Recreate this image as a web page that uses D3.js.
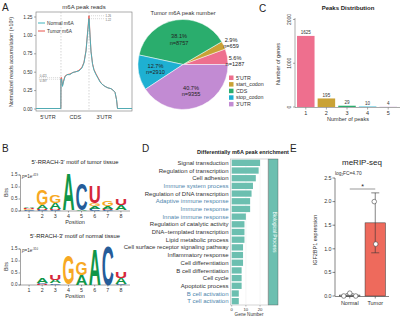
<!DOCTYPE html>
<html><head><meta charset="utf-8">
<script src="https://cdn.jsdelivr.net/npm/d3@7"></script>
<style>
body{margin:0;background:#fff}
svg{display:block}
text{font-family:"Liberation Sans",Arial,Helvetica,sans-serif;fill:#222}
</style>
</head><body>
<svg id="c" width="400" height="318"></svg>
<script>
// ---------- DATA ----------
// Panel A: metagene profile (position 0-100 across 5'UTR | CDS | 3'UTR)
const metaPos = [0,25.9,26.0,26.6,27.6,28.6,30.2,32.3,35.4,38.5,41.7,44.8,47.9,50.0,52.1,53.6,55.2,56.3,57.3,58.9,60.4,62.5,64.6,66.7,68.8,71.9,75.0,78.1,80.2,82.3,83.9,84.9,100];
const normalReads = [0,0,0.40,0.40,0.30,0.36,0.43,0.46,0.46,0.49,0.50,0.51,0.55,0.62,0.78,1.00,1.22,0.98,0.77,0.60,0.52,0.46,0.41,0.36,0.33,0.30,0.28,0.27,0.25,0.22,0.12,0,0];
const tumorReads  = [0,0,0.42,0.42,0.31,0.37,0.44,0.46,0.47,0.49,0.50,0.52,0.56,0.63,0.79,1.02,1.26,1.00,0.78,0.61,0.53,0.47,0.42,0.37,0.33,0.30,0.28,0.27,0.25,0.22,0.12,0,0];
const metaTicks = [0,0.25,0.5,0.75,1.0,1.25];
const regionLabels = ["5'UTR","CDS","3'UTR"];
const regionCenters = [12.5,41,71];
const regionBounds = [26.0,55.2];

// Panel A pie
const pieCats = ["5'UTR","start_codon","CDS","stop_codon","3'UTR"];
const pieCounts = [1287,659,8757,2910,9355];
const piePct = ["5.6%","2.9%","38.1%","12.7%","40.7%"];

// Panel C
const peakNums = ["1","2","3","4","5"];
const geneCounts = [1625,195,29,10,4];
const geneTicks = [0,1000,2000];

// Panel B sequence logos (bottom -> top, bits)
const logoPositions = [1,2,3,4,5,6,7,8];
const tumorLogo = [
  [["C",0.03],["G",0.03],["U",0.04],["A",0.05]],
  [["C",0.03],["U",0.03],["A",0.15],["G",0.68]],
  [["C",0.03],["U",0.03],["A",0.27],["G",0.31]],
  [["C",0.02],["G",0.02],["A",1.53]],
  [["A",0.03],["C",1.10]],
  [["C",0.08],["A",0.10],["G",0.12],["U",0.72]],
  [["C",0.04],["U",0.04],["A",0.10],["G",0.20]],
  [["C",0.02],["A",0.21],["U",0.29]]
];
const normalLogo = [
  [],
  [["U",0.03],["C",0.04],["A",0.22]],
  [["C",0.05],["A",0.15],["U",0.22]],
  [["A",0.02],["C",0.02],["G",1.20]],
  [["A",0.41],["G",0.56]],
  [["A",1.50]],
  [["C",1.63]],
  [["C",0.03],["A",0.25],["U",0.28]]
];
const bitTicks = [0,0.5,1.0,1.5];

// Panel D
const goTerms = ["Signal transduction","Regulation of transcription","Cell adhesion","Immune system process","Regulation of DNA transcription","Adaptive immune response","Immune response","Innate immune response","Regulation of catalytic activity","DNA\u2212templated transcription","Lipid metabolic process","Cell surface receptor signaling pathway","Inflammatory response","Cell differentiation","B cell differentiation","Cell cycle","Apoptotic process","B cell activation","T cell activation"];
const goCounts = [20,19,17,15,14,13,13,10,9,9,9,8,8,8,7,7,7,5,5];
const goImmune = ["Immune system process","Adaptive immune response","Immune response","Innate immune response","B cell activation","T cell activation"];
const goTicks = [0,10,20];

// Panel E
const groups = ["Normal","Tumor"];
const groupMeans = [0.02,1.55];
const groupSD = [0.03,0.635];
const normalPoints = [0.0,0.06,0.0];
const tumorPoints = [2.0,1.1];
const exprTicks = [0,0.5,1.0,1.5,2.0,2.5];

// ---------- DRAW ----------
const svg = d3.select("#c");
function T(g,x,y,s,size,o={}){
  const t=g.append("text").attr("x",x).attr("y",y).attr("font-size",size).text(s);
  if(o.anchor) t.attr("text-anchor",o.anchor);
  if(o.weight) t.attr("font-weight",o.weight);
  if(o.fill) t.style("fill",o.fill);
  if(o.rot!==undefined) t.attr("transform",`rotate(${o.rot},${x},${y})`);
  return t;
}
// panel letters
T(svg,2,11,"A",10); T(svg,259,12,"C",10); T(svg,2,152,"B",10); T(svg,142,152,"D",10); T(svg,290,152,"E",10);

// ===== Panel A line =====
const gA = svg.append("g");
const xA = d3.scaleLinear().domain([0,100]).range([36,132]);
const yA = d3.scaleLinear().domain([0,1.25]).range([108.5,16.5]);
gA.append("rect").attr("x",36).attr("y",12).attr("width",96).attr("height",99)
  .attr("fill","none").attr("stroke","#777").attr("stroke-width",0.6);
const axA = gA.append("g").attr("transform","translate(36,0)")
  .call(d3.axisLeft(yA).tickValues(metaTicks).tickFormat(d3.format(".2f")).tickSize(2).tickPadding(1.5));
axA.select(".domain").remove();
axA.selectAll("line").attr("stroke","#555").attr("stroke-width",0.5);
axA.selectAll("text").attr("font-size",4.8).style("fill","#333");
regionBounds.forEach(b=>gA.append("line").attr("x1",xA(b)).attr("x2",xA(b)).attr("y1",12).attr("y2",111)
  .attr("stroke","#aaa").attr("stroke-width",0.5).attr("stroke-dasharray","1.5,1.5"));
regionLabels.forEach((l,i)=>T(gA,xA(regionCenters[i]),119,l,5.5,{anchor:"middle",fill:"#333"}));
T(gA,84,9,"m6A peak reads",6,{anchor:"middle",fill:"#333"});
T(gA,13,62,"Normalized reads accumulation (\u00d710\u00b3)",5.3,{anchor:"middle",rot:-90,fill:"#333"});
// annotation dotted lines
[[3,26,0.42],[3,26,0.397],[55.2,72,1.26],[55.2,72,1.22]].forEach(a=>
  gA.append("line").attr("x1",xA(a[0])).attr("x2",xA(a[1])).attr("y1",yA(a[2])).attr("y2",yA(a[2]))
    .attr("stroke","#999").attr("stroke-width",0.4).attr("stroke-dasharray","1,1"));
[[xA(4),yA(0.42)-0.5,"0.421"],[xA(4),yA(0.397)+3,"0.397"],[xA(72.5),yA(1.26)+1,"1.26"],[xA(72.5),yA(1.22)+2.5,"1.22"]]
  .forEach(a=>T(gA,a[0],a[1],a[2],2.8,{fill:"#666"}));
const lineA = (vals)=>d3.line().x((d,i)=>xA(metaPos[i])).y(d=>yA(d))(vals);
gA.append("path").attr("d",lineA(tumorReads)).attr("fill","none").attr("stroke","#e8534a").attr("stroke-width",0.9);
gA.append("path").attr("d",lineA(normalReads)).attr("fill","none").attr("stroke","#3fb3bd").attr("stroke-width",0.9);
gA.append("line").attr("x1",38).attr("x2",45).attr("y1",23).attr("y2",23).attr("stroke","#3fb3bd").attr("stroke-width",1);
gA.append("line").attr("x1",38).attr("x2",45).attr("y1",31).attr("y2",31).attr("stroke","#e8534a").attr("stroke-width",1);
T(gA,47,25,"Normal m6A",4.8,{fill:"#333"}); T(gA,47,33,"Tumor m6A",4.8,{fill:"#333"});

// ===== Pie =====
const pieColors = ["#ee6f8e","#c9a236","#2aad6d","#1eb0d2","#c28bd3"];
const gP = svg.append("g").attr("transform","translate(183,64.5)");
const pie = d3.pie().sort(null).startAngle(Math.PI/2).endAngle(Math.PI/2-2*Math.PI);
const arcs = pie(pieCounts);
const arc = d3.arc().innerRadius(0).outerRadius(45);
gP.selectAll("path").data(arcs).join("path").attr("d",arc).attr("fill",(d,i)=>pieColors[i]).attr("stroke","#fff").attr("stroke-width",0.5);
const labR = [55,55,25,28,28];
const labOff = [[52,-3],[48,-21],null,null,null];
arcs.forEach((a,i)=>{
  let x,y;
  if(i<2){ x=labOff[i][0]; y=labOff[i][1]; }
  else { const c=d3.arc().innerRadius(labR[i]).outerRadius(labR[i]).centroid(a); x=c[0]; y=c[1]; }
  T(gP,x,y-1.5,piePct[i],5.6,{anchor:"middle",fill:"#222"});
  T(gP,x,y+4.8,"n="+pieCounts[i],5.6,{anchor:"middle",fill:"#222"});
});
T(svg,183,15,"Tumor m6A peak number",5.8,{anchor:"middle",fill:"#333"});
pieCats.forEach((c,i)=>{
  svg.append("rect").attr("x",229).attr("y",75.5+i*6.6).attr("width",4.5).attr("height",4.5).attr("fill",pieColors[i]);
  T(svg,236,79.5+i*6.6,c,5.3,{fill:"#333"});
});

// ===== Panel C =====
const gC = svg.append("g");
const xC = d3.scaleBand().domain(peakNums).range([296,398]).paddingInner(0.15).paddingOuter(0.05);
const yC = d3.scaleLinear().domain([0,2000]).range([107,19.5]);
gC.selectAll("rect").data(geneCounts).join("rect")
  .attr("x",(d,i)=>xC(peakNums[i])).attr("width",xC.bandwidth())
  .attr("y",d=>yC(d)).attr("height",d=>yC(0)-yC(d)).attr("fill",(d,i)=>pieColors[i]);
geneCounts.forEach((d,i)=>T(gC,xC(peakNums[i])+xC.bandwidth()/2,yC(d)-1.8,String(d),4.6,{anchor:"middle",fill:"#333"}));
gC.append("line").attr("x1",295).attr("x2",295).attr("y1",18).attr("y2",107.5).attr("stroke","#555").attr("stroke-width",0.5);
gC.append("line").attr("x1",295).attr("x2",400).attr("y1",107.5).attr("y2",107.5).attr("stroke","#555").attr("stroke-width",0.5);
geneTicks.forEach(t=>{
  gC.append("line").attr("x1",293).attr("x2",295).attr("y1",yC(t)).attr("y2",yC(t)).attr("stroke","#555").attr("stroke-width",0.5);
  T(gC,291,yC(t),String(t),5,{anchor:"middle",rot:-90,fill:"#333"});
});
peakNums.forEach(p=>{
  gC.append("line").attr("x1",xC(p)+xC.bandwidth()/2).attr("x2",xC(p)+xC.bandwidth()/2).attr("y1",107.5).attr("y2",109.5).attr("stroke","#555").attr("stroke-width",0.5);
  T(gC,xC(p)+xC.bandwidth()/2,115,p,5.5,{anchor:"middle",fill:"#333"});
});
T(gC,348,121,"Number of peaks",5.5,{anchor:"middle",fill:"#333"});
T(gC,280,64,"Number of genes",5.5,{anchor:"middle",rot:-90,fill:"#333"});
T(gC,348,9.5,"Peaks Distribution",6,{anchor:"middle",weight:"bold",fill:"#222"});

// ===== Panel B logos =====
const letterColor = {A:"#109648",C:"#255c99",G:"#f7a823",U:"#d62839"};
const letterAdv = {A:0.722,C:0.722,G:0.778,U:0.722};
function drawLogo(data, base, title, pexp){
  const g = svg.append("g");
  const x = d3.scaleBand().domain(logoPositions).range([22,128]).padding(0.08);
  const y = d3.scaleLinear().domain([0,1.5]).range([base, base-36]);
  T(g,75,base-47,title,5.8,{anchor:"middle",fill:"#222"});
  const ax = g.append("g").attr("transform","translate(20,0)").call(d3.axisLeft(y).tickValues(bitTicks).tickFormat(d3.format(".1f")).tickSize(1.5).tickPadding(1));
  ax.select(".domain").attr("stroke","#444").attr("stroke-width",0.5);
  ax.selectAll("line").attr("stroke","#444").attr("stroke-width",0.5);
  ax.selectAll("text").attr("font-size",4.6).style("fill","#333");
  g.append("line").attr("x1",20).attr("x2",130).attr("y1",base+0.5).attr("y2",base+0.5).attr("stroke","#444").attr("stroke-width",0.5);
  logoPositions.forEach(p=>{
    const cx = x(p)+x.bandwidth()/2;
    g.append("line").attr("x1",cx).attr("x2",cx).attr("y1",base+0.5).attr("y2",base+2).attr("stroke","#444").attr("stroke-width",0.5);
    T(g,cx,base+7.5,String(p),5.3,{anchor:"middle",fill:"#333"});
  });
  T(g,75,base+13.5,"Position",5.5,{anchor:"middle",fill:"#333"});
  T(g,8,base-18,"Bits",5.3,{anchor:"middle",rot:-90,fill:"#333"});
  const pt = g.append("text").attr("x",22).attr("y",base-33).attr("font-size",4.6).style("fill","#333");
  pt.append("tspan").attr("font-style","italic").text("p");
  pt.append("tspan").text("=1e");
  pt.append("tspan").attr("font-size",2.8).attr("dy",-2).text(pexp);
  data.forEach((stack,i)=>{
    const p = logoPositions[i];
    const cx = x(p)+x.bandwidth()/2, w = x.bandwidth();
    let cum = 0;
    stack.forEach(([L,h])=>{
      const yb = y(cum), yt = y(cum+h);
      const hp = yb-yt;
      cum += h;
      if(hp<0.2) return;
      const fs = 10;
      const sx = w/(letterAdv[L]*fs), sy = hp/(0.716*fs);
      g.append("text").attr("x",0).attr("y",0).attr("font-size",fs).attr("font-weight","bold")
        .attr("text-anchor","middle").style("fill",letterColor[L])
        .attr("transform",`translate(${cx},${yb}) scale(${sx},${sy})`).text(L);
    });
  });
}
drawLogo(tumorLogo,210.5,"5'-RRACH-3' motif of tumor tissue","-419");
drawLogo(normalLogo,284.5,"5'-RRACH-3' motif of normal tissue","-310");

// ===== Panel D =====
const gD = svg.append("g");
const yD = d3.scaleBand().domain(goTerms).range([159,305]).paddingInner(0.18).paddingOuter(0.09);
const xD = d3.scaleLinear().domain([0,25.6]).range([231.7,268]);
gD.append("rect").attr("x",230.5).attr("y",159).attr("width",37.5).attr("height",146).attr("fill","#fff").attr("stroke","#aaa").attr("stroke-width",0.5);
goTicks.forEach(t=>gD.append("line").attr("x1",xD(t)).attr("x2",xD(t)).attr("y1",159).attr("y2",305).attr("stroke","#ececec").attr("stroke-width",0.5));
gD.selectAll("rect.bar").data(goCounts).join("rect").attr("class","bar")
  .attr("x",xD(0)).attr("y",(d,i)=>yD(goTerms[i])).attr("height",yD.bandwidth())
  .attr("width",d=>xD(d)-xD(0)).attr("fill","#6cbfb0");
goTerms.forEach(t=>T(gD,228.5,yD(t)+yD.bandwidth()/2+2.1,t,6,{anchor:"end",fill:goImmune.includes(t)?"#4f86ad":"#333"}));
goTicks.forEach(t=>{
  gD.append("line").attr("x1",xD(t)).attr("x2",xD(t)).attr("y1",305).attr("y2",306.5).attr("stroke","#555").attr("stroke-width",0.4);
  T(gD,xD(t),310.5,String(t),4.2,{anchor:"middle",fill:"#333"});
});
T(gD,249,316,"Gene Number",4.6,{anchor:"middle",fill:"#333"});
gD.append("rect").attr("x",268.5).attr("y",159).attr("width",9.5).attr("height",146).attr("fill","#6cbfb0").attr("stroke","#555").attr("stroke-width",0.4);
T(gD,273.2,232,"Biological Process",5,{anchor:"middle",rot:90,fill:"#fff"});
T(gD,243,154,"Differentially m6A peak enrichment",5.5,{anchor:"middle",weight:"bold",fill:"#222"});

// ===== Panel E =====
const gE = svg.append("g");
const xE = d3.scaleBand().domain(groups).range([337,388]).paddingInner(0.2).paddingOuter(0.1);
const yE = d3.scaleLinear().domain([0,2.5]).range([296,178]);
gE.append("line").attr("x1",335).attr("x2",335).attr("y1",178).attr("y2",296).attr("stroke","#333").attr("stroke-width",0.6);
gE.append("line").attr("x1",335).attr("x2",389).attr("y1",296.5).attr("y2",296.5).attr("stroke","#333").attr("stroke-width",0.6);
exprTicks.forEach(t=>{
  gE.append("line").attr("x1",332.5).attr("x2",335).attr("y1",yE(t)).attr("y2",yE(t)).attr("stroke","#333").attr("stroke-width",0.6);
  T(gE,331.5,yE(t)+1.8,d3.format(".1f")(t),5.3,{anchor:"end",fill:"#333"});
});
const eColors = ["#ffffff","#ee6a5c"];
groups.forEach((g,i)=>{
  const bx = xE(g), bw = xE.bandwidth(), cx = bx+bw/2;
  gE.append("rect").attr("x",bx).attr("y",yE(groupMeans[i])).attr("width",bw).attr("height",yE(0)-yE(groupMeans[i]))
    .attr("fill",eColors[i]).attr("stroke","#333").attr("stroke-width",0.5);
  const lo = yE(Math.max(0,groupMeans[i]-groupSD[i])), hi = yE(groupMeans[i]+groupSD[i]);
  gE.append("line").attr("x1",cx).attr("x2",cx).attr("y1",lo).attr("y2",hi).attr("stroke","#333").attr("stroke-width",0.6);
  gE.append("line").attr("x1",cx-4).attr("x2",cx+4).attr("y1",hi).attr("y2",hi).attr("stroke","#333").attr("stroke-width",0.6);
  gE.append("line").attr("x1",cx-4).attr("x2",cx+4).attr("y1",lo).attr("y2",lo).attr("stroke","#333").attr("stroke-width",0.6);
  gE.append("line").attr("x1",cx).attr("x2",cx).attr("y1",296.5).attr("y2",298.5).attr("stroke","#333").attr("stroke-width",0.6);
  T(gE,cx,305,g,5.5,{anchor:"middle",fill:"#333"});
  const pts = i===0?normalPoints:tumorPoints;
  pts.forEach((v,j)=>{
    const off = i===0 ? (j-1)*6 : (j===0?-1:0.5);
    gE.append("circle").attr("cx",cx+off).attr("cy",yE(v)).attr("r",2.3).attr("fill","#fff").attr("stroke","#444").attr("stroke-width",0.6);
  });
});
const nC = xE("Normal")+xE.bandwidth()/2, tC = xE("Tumor")+xE.bandwidth()/2;
gE.append("line").attr("x1",nC).attr("x2",tC).attr("y1",189).attr("y2",189).attr("stroke","#333").attr("stroke-width",0.5);
T(gE,(nC+tC)/2,188.5,"*",7,{anchor:"middle",fill:"#222"});
const lg = gE.append("text").attr("x",335).attr("y",175).attr("font-size",4.8).style("fill","#333");
lg.append("tspan").text("log"); lg.append("tspan").attr("font-size",3).attr("dy",1.2).text("2"); lg.append("tspan").attr("dy",-1.2).text("FC=4.70");
T(gE,362,165,"meRIP-seq",8,{anchor:"middle",fill:"#222"});
T(gE,317,240,"IGF2BP1 expression",5.5,{anchor:"middle",rot:-90,fill:"#333"});
</script>
</body></html>
